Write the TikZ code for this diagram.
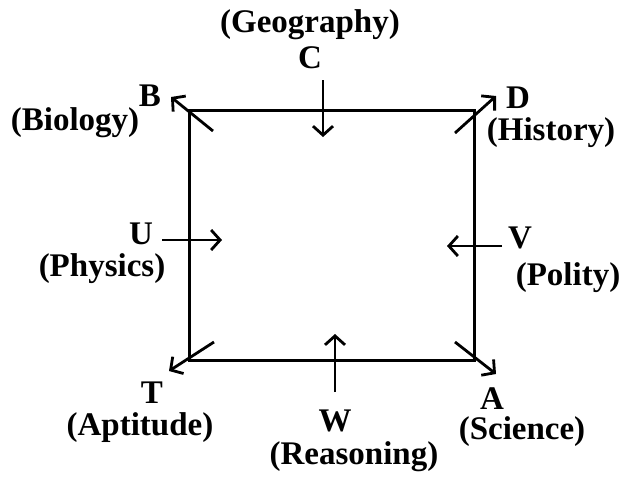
\documentclass[tikz,border=0pt]{standalone}
\usepackage{fontspec}
\setmainfont{Liberation Serif}
\usetikzlibrary{arrows.meta}
\begin{document}
\begin{tikzpicture}[x=1pt,y=-1pt,
  lbl/.style={font=\fontsize{33}{36}\selectfont\bfseries, inner sep=0pt},
  sq/.style={line width=3pt},
  arr/.style={line width=2.8pt, -{Straight Barb[length=9pt,width=20pt,line width=2.8pt]}}]
\useasboundingbox (0,0) rectangle (627,483);
% square corners
\coordinate (tl) at (189,110);
\coordinate (tr) at (474,110);
\coordinate (br) at (474,360);
\coordinate (bl) at (189,360);
\draw[sq] (tl) -- (tr) -- (br) -- (bl) -- cycle;
% arrow end points
\coordinate (b0) at (213,131); \coordinate (b1) at (171,97);
\coordinate (d0) at (455,133); \coordinate (d1) at (496,96);
\coordinate (t0) at (214,342); \coordinate (t1) at (169,371);
\coordinate (a0) at (455,342); \coordinate (a1) at (496,374);
\coordinate (c0) at (323,80);  \coordinate (c1) at (323,137);
\coordinate (w0) at (335,392); \coordinate (w1) at (335,334);
\coordinate (u0) at (162,240); \coordinate (u1) at (222,240);
\coordinate (v0) at (502,246); \coordinate (v1) at (447,246);
\foreach \s in {b,d,t,a,c,w,u,v} \draw[arr] (\s0) -- (\s1);
% labels
\node[lbl] (geo) at (310,25) {(Geography)};
\node[lbl] (C) at (310,58) {C};
\node[lbl] (B) at (150,96) {B};
\node[lbl] (bio) at (75,123) {(Biology)};
\node[lbl] (D) at (518,98) {D};
\node[lbl] (his) at (551,133) {(History)};
\node[lbl] (U) at (141,234) {U};
\node[lbl] (phy) at (102,269) {(Physics)};
\node[lbl] (V) at (520,238) {V};
\node[lbl] (pol) at (568,278) {(Polity)};
\node[lbl] (T) at (152,393) {T};
\node[lbl] (apt) at (140,428) {(Aptitude)};
\node[lbl] (W) at (335,421) {W};
\node[lbl] (rea) at (354,457) {(Reasoning)};
\node[lbl] (A) at (492,399) {A};
\node[lbl] (sci) at (522,432) {(Science)};
\end{tikzpicture}
\end{document}
